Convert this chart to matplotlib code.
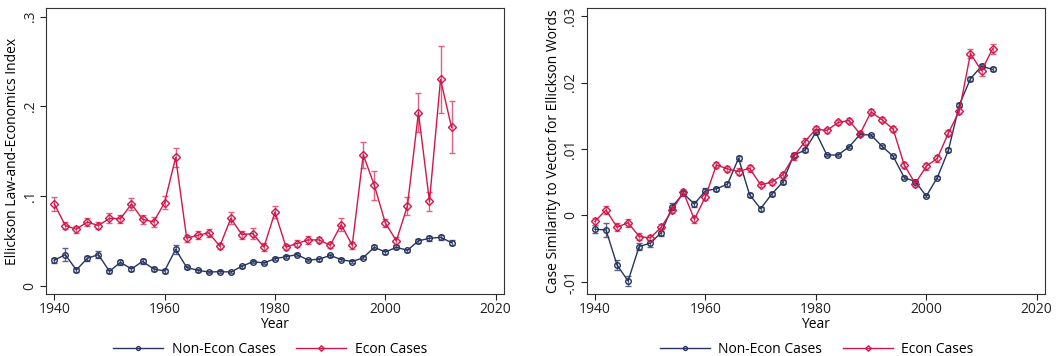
import matplotlib

matplotlib.use("Agg")
import matplotlib.pyplot as plt

plt.rcParams["font.family"] = ["Open Sans", "DejaVu Sans"]

YEARS = list(range(1940, 2013, 2))

# left panel: Ellickson law-and-economics index
LE_ECON = [0.0914, 0.067, 0.063, 0.071, 0.067, 0.075, 0.0747, 0.091, 0.074, 0.071,
           0.0926, 0.143, 0.053, 0.056, 0.059, 0.044, 0.075, 0.057, 0.058, 0.043,
           0.082, 0.043, 0.047, 0.051, 0.051, 0.045, 0.068, 0.045, 0.146, 0.112,
           0.070, 0.050, 0.089, 0.193, 0.094, 0.230, 0.1766]
LE_ECON_ERR = [0.0078, 0.0037, 0.0040, 0.0050, 0.0040, 0.0055, 0.0045, 0.0067, 0.0050, 0.0060,
               0.0070, 0.0110, 0.0040, 0.0045, 0.0045, 0.0035, 0.0067, 0.0045, 0.0060, 0.0045,
               0.0070, 0.0035, 0.0035, 0.0040, 0.0035, 0.0035, 0.0070, 0.0040, 0.0145, 0.0160,
               0.0046, 0.0046, 0.0100, 0.0220, 0.0110, 0.0375, 0.0290]
LE_NON = [0.0283, 0.0346, 0.0175, 0.0305, 0.0346, 0.016, 0.026, 0.0186, 0.0271, 0.0186,
          0.0164, 0.0405, 0.0204, 0.0171, 0.0152, 0.0156, 0.0152, 0.0216, 0.0268, 0.0253,
          0.0301, 0.0323, 0.0346, 0.0286, 0.0294, 0.0338, 0.029, 0.0268, 0.0312, 0.0428,
          0.0375, 0.0428, 0.0394, 0.050, 0.0528, 0.0539, 0.048]
LE_NON_ERR = [0.0030, 0.0070, 0.0025, 0.0025, 0.0035, 0.0020, 0.0030, 0.0020, 0.0025, 0.0020,
              0.0020, 0.0050, 0.0020, 0.0015, 0.0015, 0.0015, 0.0015, 0.0015, 0.0015, 0.0015,
              0.0015, 0.0015, 0.0015, 0.0015, 0.0015, 0.0015, 0.0015, 0.0015, 0.0015, 0.0020,
              0.0020, 0.0020, 0.0020, 0.0025, 0.0025, 0.0025, 0.0030]

# right panel: similarity to Ellickson word vector
SIM_ECON = [-0.0009, 0.0008, -0.0018, -0.0011, -0.0032, -0.0034, -0.0018, 0.0008, 0.0035, -0.0006,
            0.0028, 0.0076, 0.0070, 0.0066, 0.0071, 0.0046, 0.0050, 0.0061, 0.0089, 0.0111,
            0.0130, 0.0128, 0.0140, 0.0143, 0.0123, 0.0156, 0.0144, 0.0130, 0.0076, 0.0048,
            0.0074, 0.0086, 0.0124, 0.0158, 0.0244, 0.0218, 0.0251]
SIM_ECON_ERR = [0.0005, 0.0006, 0.0006, 0.0006, 0.0005, 0.0005, 0.0005, 0.0005, 0.0005, 0.0005,
                0.0005, 0.0004, 0.0005, 0.0005, 0.0005, 0.0004, 0.0004, 0.0004, 0.0005, 0.0005,
                0.0004, 0.0004, 0.0004, 0.0004, 0.0004, 0.0004, 0.0004, 0.0004, 0.0005, 0.0005,
                0.0005, 0.0005, 0.0005, 0.0005, 0.0007, 0.0008, 0.0008]
SIM_NON = [-0.0021, -0.0022, -0.0075, -0.0099, -0.0047, -0.0042, -0.0026, 0.0013, 0.0033, 0.0017,
           0.0037, 0.0040, 0.0047, 0.0086, 0.0031, 0.0010, 0.0032, 0.0050, 0.0091, 0.0098,
           0.0125, 0.0091, 0.0091, 0.0103, 0.0122, 0.0121, 0.0104, 0.0089, 0.0057, 0.0051,
           0.0029, 0.0057, 0.0098, 0.0167, 0.0206, 0.0225, 0.0220]
SIM_NON_ERR = [0.0006, 0.0010, 0.0007, 0.0008, 0.0005, 0.0005, 0.0005, 0.0005, 0.0004, 0.0004,
               0.0004, 0.0003, 0.0004, 0.0004, 0.0003, 0.0003, 0.0003, 0.0003, 0.0003, 0.0003,
               0.0003, 0.0002, 0.0002, 0.0002, 0.0002, 0.0002, 0.0002, 0.0002, 0.0002, 0.0002,
               0.0002, 0.0002, 0.0003, 0.0003, 0.0003, 0.0003, 0.0003]

NAVY = "#26345e"
RED = "#d2164a"
NAVY_ERR = "#5a6688"
RED_ERR = "#e0607f"


def _draw(ax, non, non_err, econ, econ_err):
    ax.errorbar(YEARS, non, yerr=non_err, fmt="none", ecolor=NAVY_ERR,
                elinewidth=1.0, capsize=2.5, capthick=1.0, zorder=2)
    ax.errorbar(YEARS, econ, yerr=econ_err, fmt="none", ecolor=RED_ERR,
                elinewidth=1.0, capsize=2.5, capthick=1.0, zorder=2)
    h1, = ax.plot(YEARS, non, color=NAVY, linewidth=1.0, marker="o", markersize=4,
                  markerfacecolor="none", markeredgewidth=1.0, label="Non-Econ Cases", zorder=3)
    h2, = ax.plot(YEARS, econ, color=RED, linewidth=1.0, marker="D", markersize=4,
                  markerfacecolor="none", markeredgewidth=1.0, label="Econ Cases", zorder=4)
    ax.set_xlim(1938.5, 2021.5)
    ax.set_xticks([1940, 1960, 1980, 2000, 2020])
    ax.set_xlabel("Year", fontsize=10, labelpad=0)
    ax.tick_params(axis="both", direction="out", length=4, width=0.8, labelsize=10,
                   colors="#222222", pad=2)
    for spine in ax.spines.values():
        spine.set_color("#333333")
        spine.set_linewidth(0.8)
    return h1, h2


fig = plt.figure(figsize=(10.59, 3.56), dpi=100)
ax1 = fig.add_axes([0.0434, 0.1742, 0.4325, 0.8034])
ax2 = fig.add_axes([0.554, 0.1742, 0.4328, 0.8034])

h = _draw(ax1, LE_NON, LE_NON_ERR, LE_ECON, LE_ECON_ERR)
ax1.set_ylim(-0.0093, 0.3097)
ax1.set_yticks([0, 0.1, 0.2, 0.3])
ax1.set_yticklabels(["0", ".1", ".2", ".3"], rotation=90, va="center")
ax1.set_ylabel("Ellickson Law-and-Economics Index", fontsize=10, labelpad=2)

_draw(ax2, SIM_NON, SIM_NON_ERR, SIM_ECON, SIM_ECON_ERR)
ax2.set_ylim(-0.01186, 0.03127)
ax2.set_yticks([-0.01, 0, 0.01, 0.02, 0.03])
ax2.set_yticklabels(["-.01", "0", ".01", ".02", ".03"], rotation=90, va="center")
ax2.set_ylabel("Case Similarity to Vector for Ellickson Words", fontsize=10, labelpad=2)

for cx in (0.255, 0.771):
    fig.legend(h, ["Non-Econ Cases", "Econ Cases"], loc="center",
               bbox_to_anchor=(cx, 0.018), ncol=2, frameon=False, fontsize=10,
               handlelength=3.6, columnspacing=1.5, handletextpad=0.6, markerscale=0.7)

fig.savefig("out.png", dpi=100)
